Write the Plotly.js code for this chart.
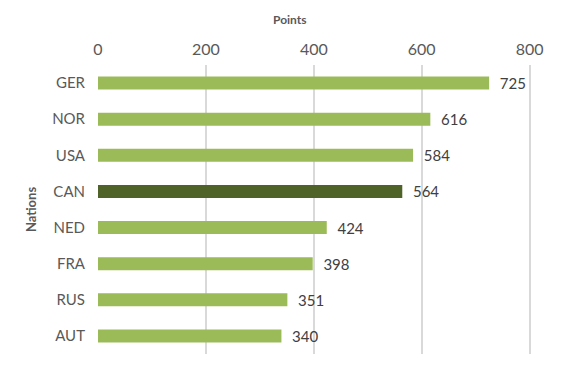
<!DOCTYPE html>
<html>
<head>
<meta charset="utf-8">
<script src="https://cdn.plot.ly/plotly-3.0.1.min.js"></script>
<style>html,body{margin:0;padding:0;background:#fff;}#chart{width:565px;height:370px;}</style>
</head>
<body>
<div id="chart"></div>
<script>
const nations = ["GER", "NOR", "USA", "CAN", "NED", "FRA", "RUS", "AUT"];
const points = [725, 616, 584, 564, 424, 398, 351, 340];
const xTicks = [0, 200, 400, 600, 800];
const highlight = "CAN";
const baseColor = "#9BBB59";
const highlightColor = "#4F6228";

const colors = nations.map(n => n === highlight ? highlightColor : baseColor);

const trace = {
  type: "bar",
  orientation: "h",
  y: nations,
  x: points,
  width: 0.36,
  marker: {color: colors},
  text: points.map(String),
  texttemplate: "  %{text}",
  textposition: "outside",
  constraintext: "none",
  cliponaxis: false,
  textfont: {family: "Lato, 'Open Sans', sans-serif", size: 15, color: "#404040"},
  hoverinfo: "none"
};

const layout = {
  width: 565,
  height: 370,
  margin: {l: 98, r: 30, t: 65, b: 16},
  paper_bgcolor: "#fff",
  plot_bgcolor: "#fff",
  showlegend: false,
  font: {family: "Lato, 'Open Sans', sans-serif", color: "#595959"},
  xaxis: {
    side: "top",
    range: [0, 810],
    tickvals: xTicks,
    showgrid: true,
    gridcolor: "#D9D9D9",
    gridwidth: 2,
    zeroline: false,
    showline: false,
    ticks: "",
    ticklabelstandoff: 6,
    tickfont: {size: 16, color: "#595959"}
  },
  yaxis: {
    type: "category",
    categoryorder: "array",
    categoryarray: nations,
    autorange: "reversed",
    showgrid: false,
    zeroline: false,
    showline: false,
    ticks: "",
    ticklabelstandoff: 12,
    tickfont: {size: 15, color: "#595959"},
    title: {text: "<b>Nations</b>", font: {size: 13, color: "#595959"}, standoff: 12}
  },
  annotations: [{
    text: "<b>Points</b>",
    xref: "paper", yref: "paper",
    x: 0.44, y: 1.156,
    xanchor: "center", yanchor: "middle",
    showarrow: false,
    font: {size: 12, color: "#595959"}
  }]
};

Plotly.newPlot("chart", [trace], layout, {displayModeBar: false, staticPlot: true});
</script>
</body>
</html>
